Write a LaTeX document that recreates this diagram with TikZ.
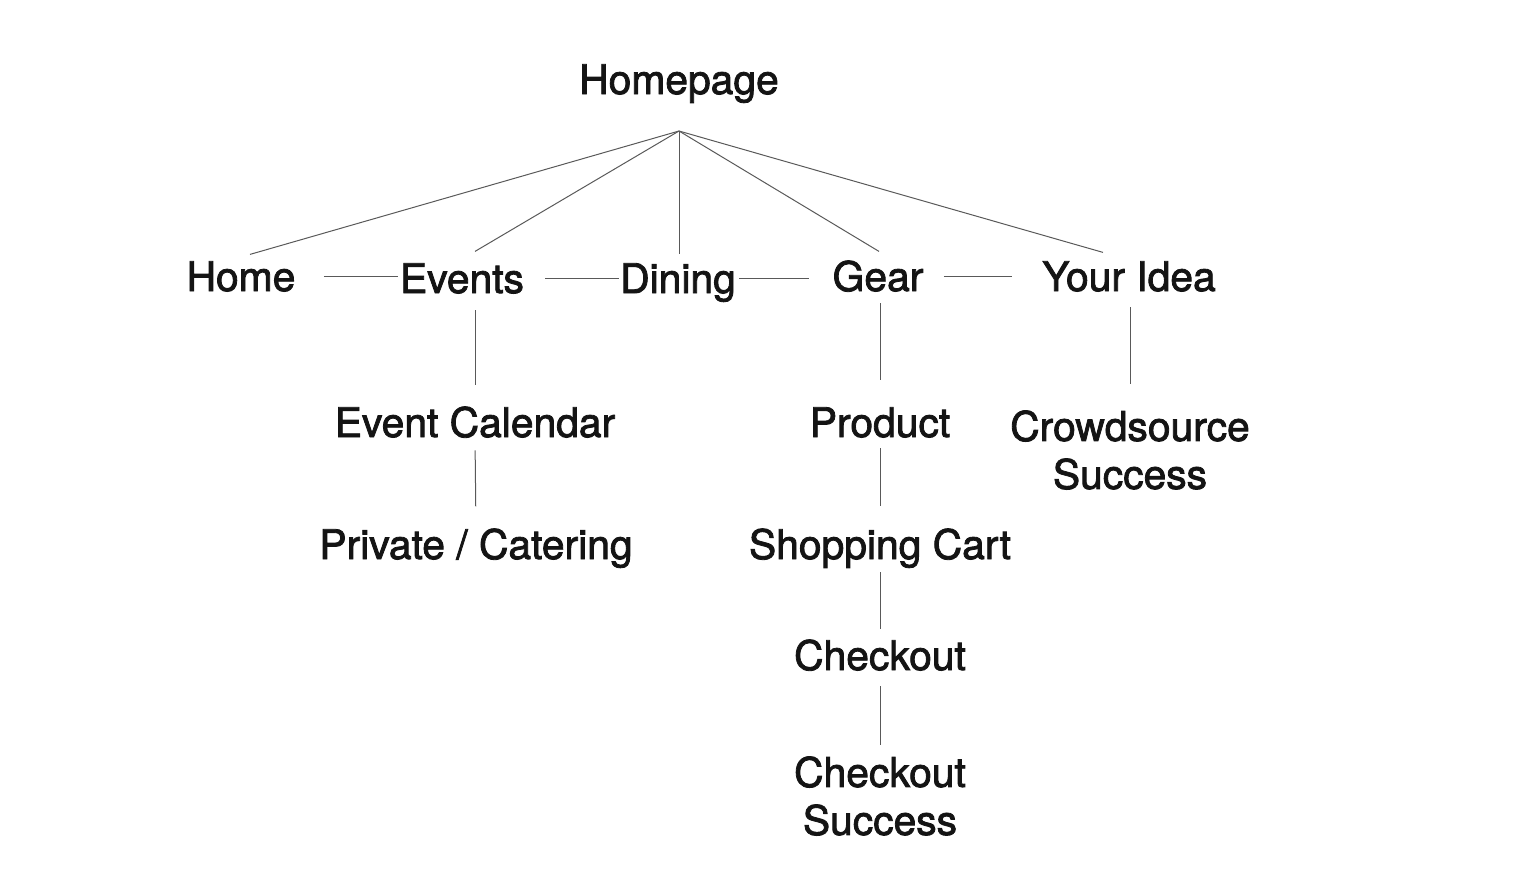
\documentclass[tikz,border=0pt]{standalone}
\usepackage{fontspec}
\setmainfont[FakeBold=2]{TeX Gyre Heros}
\begin{document}
\begin{tikzpicture}[x=0.5pt, y=-0.5pt,
  page/.style={inner sep=0pt, anchor=base, text height=14.6pt, text depth=0pt, text=txt, font=\fontsize{20.4}{24}\selectfont},
  twoline/.style={inner sep=0pt, anchor=north, align=center, text=txt, font=\fontsize{20.4}{24}\selectfont},
  link/.style={draw=black!65, line width=0.5pt}]
\definecolor{txt}{HTML}{141414}
\useasboundingbox (0,0) rectangle (1526,890);
% pages
\node[page] (homepage) at (679,94) {Homepage};
\coordinate (hub) at (679,131);
\node[page] (home) at (241,291) {Home};
\node[page] (events) at (462,293) {Events};
\node[page] (dining) at (678,293) {Dining};
\node[page] (gear) at (878,291) {Gear};
\node[page] (idea) at (1129,291) {Your Idea};
\node[page] (calendar) at (475,437) {Event Calendar};
\node[page] (private) at (476,559) {Private / Catering};
\node[page] (product) at (880,437) {Product};
\node[page] (cart) at (880,559) {Shopping Cart};
\node[page] (checkout) at (880,670) {Checkout};
\node[twoline] (cosuccess) at (880,756) {Checkout\\Success};
\node[twoline] (crowd) at (1130,410) {Crowdsource\\Success};
% from the homepage
\draw[link] (hub) -- ([shift={(9,-7)}]home.north);
\draw[link] (hub) -- ([shift={(13,-12)}]events.north);
\draw[link] (hub) -- ([shift={(1,-9)}]dining.north);
\draw[link] (hub) -- ([shift={(1,-10)}]gear.north);
\draw[link] (hub) -- ([shift={(-26,-9)}]idea.north);
% top row
\draw[link, shorten <=14pt, shorten >=1pt] (home.east) -- (home.east -| events.west);
\draw[link, shorten <=10.5pt, shorten >=0.5pt] (events.east) -- (events.east -| dining.west);
\draw[link, shorten <=1.5pt, shorten >=11.5pt] (dining.east) -- (dining.east -| gear.west);
\draw[link, shorten <=10pt, shorten >=15pt] (gear.east) -- (gear.east -| idea.west);
% down the branches
\draw[link, shorten <=8.5pt, shorten >=11pt] (events.south -| calendar.north) -- (calendar.north);
\draw[link, shorten <=6.5pt, shorten >=11.5pt] (calendar.south) -- (private.north);
\draw[link, shorten <=6pt, shorten >=13.5pt] (gear.south -| product.north) -- (product.north);
\draw[link, shorten <=5.5pt, shorten >=11.5pt] (product.south) -- (cart.north);
\draw[link, shorten <=6.5pt, shorten >=5.5pt] (cart.south) -- (checkout.north);
\draw[link, shorten <=8pt, shorten >=5.5pt] (checkout.south) -- (cosuccess.north);
\draw[link, shorten <=8pt, shorten >=13pt] (idea.south -| crowd.north) -- (crowd.north);
\end{tikzpicture}
\end{document}
